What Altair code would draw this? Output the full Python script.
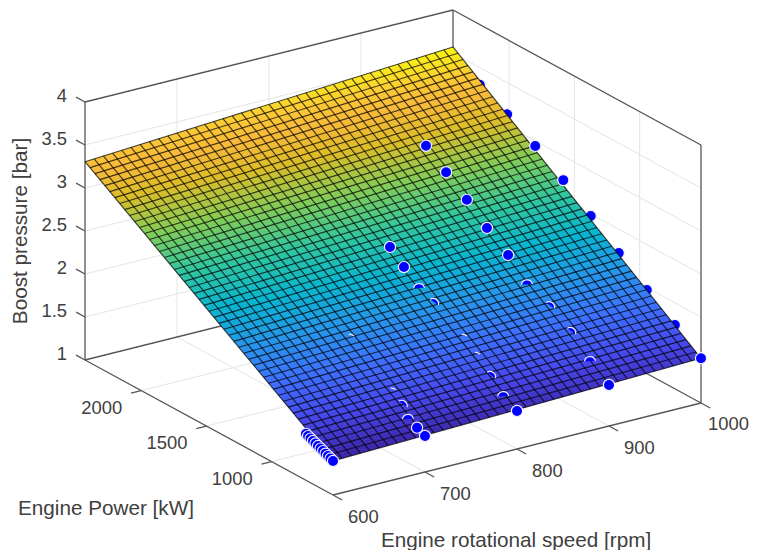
import numpy as np
import pandas as pd
import altair as alt

# ---- axis limits and tick values
RPM_MIN, RPM_MAX = 600, 1000
P_MIN, P_MAX = 530, 2430
Z_MIN, Z_MAX = 1, 4
rpm_ticks = [600, 700, 800, 900, 1000]
power_ticks = [1000, 1500, 2000]
z_ticks = [1, 1.5, 2, 2.5, 3, 3.5, 4]
z_tick_labels = ["1", "1.5", "2", "2.5", "3", "3.5", "4"]

# ---- surface mesh
rpm_grid = [600,610,620,630,640,650,660,670,680,690,700,710,720,730,740,750,760,770,780,790,800,
            810,820,830,840,850,860,870,880,890,900,910,920,930,940,950,960,970,980,990,1000]
power_grid = [530,568,606,644,682,720,758,796,834,872,910,948,986,1024,1062,1100,1138,1176,1214,1252,1290,
              1328,1366,1404,1442,1480,1518,1556,1594,1632,1670,1708,1746,1784,1822,1860,1898,1936,1974,2012,2050,
              2088,2126,2164,2202,2240,2278,2316,2354,2392,2430]
z_at_pmin = [1.395,1.398,1.401,1.404,1.408,1.411,1.414,1.417,1.420,1.423,1.426,1.429,1.433,1.436,1.439,1.442,1.445,1.448,1.451,1.454,1.458,
             1.461,1.464,1.467,1.470,1.473,1.476,1.479,1.483,1.486,1.489,1.492,1.495,1.498,1.501,1.504,1.508,1.511,1.514,1.517,1.520]
z_at_pmax = [3.306,3.313,3.319,3.326,3.332,3.339,3.346,3.352,3.359,3.365,3.372,3.379,3.385,3.392,3.398,3.405,3.412,3.418,3.425,3.431,3.438,
             3.445,3.451,3.458,3.464,3.471,3.478,3.484,3.491,3.497,3.504,3.511,3.517,3.524,3.530,3.537,3.544,3.550,3.557,3.563,3.570]
z_at_600 = [1.395,1.433,1.471,1.510,1.548,1.586,1.624,1.663,1.701,1.739,1.777,1.815,1.854,1.892,1.930,1.968,2.007,2.045,2.083,2.121,2.159,
            2.198,2.236,2.274,2.312,2.351,2.389,2.427,2.465,2.503,2.542,2.580,2.618,2.656,2.695,2.733,2.771,2.809,2.847,2.886,2.924,
            2.962,3.000,3.039,3.077,3.115,3.153,3.191,3.230,3.268,3.306]
z_at_1000 = [1.520,1.561,1.602,1.643,1.684,1.725,1.766,1.807,1.848,1.889,1.930,1.971,2.012,2.053,2.094,2.135,2.176,2.217,2.258,2.299,2.340,
             2.381,2.422,2.463,2.504,2.545,2.586,2.627,2.668,2.709,2.750,2.791,2.832,2.873,2.914,2.955,2.996,3.037,3.078,3.119,3.160,
             3.201,3.242,3.283,3.324,3.365,3.406,3.447,3.488,3.529,3.570]

# ---- measured points; vis: how much of the marker shows through the surface
dot_rpm = [1000]*9 + [900]*10 + [800]*10 + [700]*6 + [600]*12
dot_power = [530,730,945,1160,1375,1585,1800,2015,2225,
             530,676,828,990,1159,1303,1465,1619,1778,1932,
             530,636,737,844,944,1051,1174,1281,1396,1503,
             530,591,661,709,785,1104,
             737,721,702,683,664,645,625,606,587,568,549,530]
dot_z = [1.520,1.742,1.972,2.224,2.477,2.720,2.940,3.130,3.300,
         1.477,1.647,1.835,2.000,2.140,2.350,2.530,2.730,2.920,3.100,
         1.442,1.540,1.666,1.800,1.926,2.050,2.153,2.264,2.400,2.545,
         1.419,1.465,1.523,1.620,1.700,2.060,
         1.540,1.527,1.514,1.501,1.488,1.474,1.461,1.448,1.434,1.421,1.408,1.395]
dot_vis = ["full","under","under","under","under","full","full","under","under",
           "full","cap","sliver","sliver","cap","full","full","full","full","full",
           "full","cap","sliver","tiny","tiny","under","sliver","cap","full","full",
           "full","full","cap","sliver","tiny","tiny",
           "full","full","full","full","full","full","full","full","full","full","full","full"]

parula = ["#3e26a8","#4747eb","#3e6fff","#2796eb","#08b5d0","#31c69f","#81cc59","#dcbd29","#f9b93a","#fcc836","#f9fb0e"]
parula_at = [0, 0.111, 0.222, 0.333, 0.444, 0.556, 0.667, 0.778, 0.86, 0.91, 1]

# ---- view: fixed orthographic projection of the axes box onto the page
ORIGIN = (333.0, 495.0)
U = (368.0, -92.0)
V = (-248.0, -135.0)
Z_PX = 86.0
W, H = 743, 542
OFF = 8


def project(rpm, power, z):
    u = (np.asarray(rpm, float) - RPM_MIN) / (RPM_MAX - RPM_MIN)
    v = (np.asarray(power, float) - P_MIN) / (P_MAX - P_MIN)
    px = ORIGIN[0] + U[0] * u + V[0] * v
    py = ORIGIN[1] + U[1] * u + V[1] * v - Z_PX * (np.asarray(z, float) - Z_MIN)
    return px, py


def segs(rows):
    a = np.array([r[:3] for r in rows], float)
    b = np.array([r[3:] for r in rows], float)
    x, y = project(a[:, 0], a[:, 1], a[:, 2])
    x2, y2 = project(b[:, 0], b[:, 1], b[:, 2])
    return pd.DataFrame({"x": x, "y": y, "x2": x2, "y2": y2})


sx = alt.Scale(domain=[OFF, OFF + W], range=[0, W], nice=False, zero=False)
sy = alt.Scale(domain=[OFF, OFF + H], range=[0, H], nice=False, zero=False)
X = alt.X("x:Q", scale=sx, axis=None)
Y = alt.Y("y:Q", scale=sy, axis=None)


def rule_layer(rows, color, width, opacity=1.0):
    return alt.Chart(segs(rows)).mark_rule(color=color, strokeWidth=width, opacity=opacity).encode(
        x=X, y=Y, x2="x2:Q", y2="y2:Q")


# walls and floor grid
grid = []
for r in rpm_ticks[1:-1]:
    grid += [(r, P_MIN, Z_MIN, r, P_MAX, Z_MIN), (r, P_MAX, Z_MIN, r, P_MAX, Z_MAX)]
for p in power_ticks:
    grid += [(RPM_MIN, p, Z_MIN, RPM_MAX, p, Z_MIN), (RPM_MAX, p, Z_MIN, RPM_MAX, p, Z_MAX)]
for z in z_ticks[1:-1]:
    grid += [(RPM_MIN, P_MAX, z, RPM_MAX, P_MAX, z), (RPM_MAX, P_MIN, z, RPM_MAX, P_MAX, z)]

box = [
    (RPM_MIN, P_MIN, Z_MIN, RPM_MAX, P_MIN, Z_MIN),
    (RPM_MIN, P_MIN, Z_MIN, RPM_MIN, P_MAX, Z_MIN),
    (RPM_MAX, P_MIN, Z_MIN, RPM_MAX, P_MAX, Z_MIN),
    (RPM_MIN, P_MAX, Z_MIN, RPM_MAX, P_MAX, Z_MIN),
    (RPM_MIN, P_MAX, Z_MIN, RPM_MIN, P_MAX, Z_MAX),
    (RPM_MAX, P_MIN, Z_MIN, RPM_MAX, P_MIN, Z_MAX),
    (RPM_MAX, P_MAX, Z_MIN, RPM_MAX, P_MAX, Z_MAX),
    (RPM_MIN, P_MAX, Z_MAX, RPM_MAX, P_MAX, Z_MAX),
    (RPM_MAX, P_MIN, Z_MAX, RPM_MAX, P_MAX, Z_MAX),
]

ticks = []
for r in rpm_ticks:
    ticks.append((r, P_MIN, Z_MIN, r, P_MIN - 70, Z_MIN))
for p in power_ticks:
    ticks.append((RPM_MIN, p, Z_MIN, RPM_MIN - 11, p, Z_MIN))
for z in z_ticks:
    ticks.append((RPM_MIN, P_MAX, z, RPM_MIN, P_MAX + 68, z))

# surface patch with a gradient running along z
c_rpm = [rpm_grid[0], rpm_grid[-1], rpm_grid[-1], rpm_grid[0]]
c_pow = [power_grid[0], power_grid[0], power_grid[-1], power_grid[-1]]
c_z = [z_at_pmin[0], z_at_pmin[-1], z_at_pmax[-1], z_at_pmax[0]]
cx, cy = project(c_rpm, c_pow, c_z)
nx = (cx - cx.min()) / (cx.max() - cx.min())
ny = (cy - cy.min()) / (cy.max() - cy.min())
t = (np.array(c_z) - min(c_z)) / (max(c_z) - min(c_z))
A = np.column_stack([np.ones(4), nx, ny])
al, be, ga = np.linalg.lstsq(A, t, rcond=None)[0]
n2 = be * be + ga * ga
x1, y1 = -al * be / n2, -al * ga / n2
x2, y2 = x1 + be / n2, y1 + ga / n2
gradient = alt.LinearGradient(
    gradient="linear", x1=float(x1), y1=float(y1), x2=float(x2), y2=float(y2),
    stops=[alt.GradientStop(offset=o, color=c) for o, c in zip(parula_at, parula)])
patch_df = pd.DataFrame({"x": cx, "y": cy, "i": range(4)})
patch = alt.Chart(patch_df).mark_line(
    filled=True, interpolate="linear-closed", fill=gradient, stroke=None, strokeWidth=0
).encode(x=X, y=Y, order="i:Q")

# mesh
mesh_rows = [(r, P_MIN, a, r, P_MAX, b) for r, a, b in zip(rpm_grid, z_at_pmin, z_at_pmax)]
mesh_rows += [(RPM_MIN, p, a, RPM_MAX, p, b) for p, a, b in zip(power_grid, z_at_600, z_at_1000)]
mesh = rule_layer(mesh_rows, "#000000", 1.15, 0.72)

# dots
dots = pd.DataFrame({"rpm": dot_rpm, "power": dot_power, "z": dot_z, "vis": dot_vis})
dots["x"], dots["y"] = project(dots.rpm, dots.power, dots.z)
dots["i"] = range(len(dots))
DOT = 125


def dot_layer(vis):
    d = dots[dots.vis == vis]
    return alt.Chart(d).mark_point(shape="circle", filled=True, fill="#0000ff", stroke="#f0f0ff",
                                   strokeWidth=1.2, size=DOT, opacity=1).encode(x=X, y=Y, order="i:Q")


def part_layers(vis, start, arc):
    d = dots[dots.vis == vis]
    area = alt.Chart(d).mark_point(shape=f"M{start}A1,1,0,0,1,{arc}Z", filled=True, fill="#0000ff",
                                   strokeWidth=0, size=DOT, opacity=1).encode(x=X, y=Y)
    edge = alt.Chart(d).mark_point(shape=f"M{start}A1,1,0,0,1,{arc}", filled=False, stroke="#f0f0ff",
                                   strokeWidth=1.2, size=DOT, opacity=1).encode(x=X, y=Y)
    return area + edge


# tick labels
z_px, z_py = project([RPM_MIN] * len(z_ticks), [P_MAX] * len(z_ticks), z_ticks)
p_px, p_py = project([RPM_MIN] * len(power_ticks), power_ticks, [Z_MIN] * len(power_ticks))
r_px, r_py = project(rpm_ticks, [P_MIN] * len(rpm_ticks), [Z_MIN] * len(rpm_ticks))
FONT = "Liberation Sans"
TXT = "#404040"


def labels(px, py, text, align, dx, dy):
    df = pd.DataFrame({"x": px, "y": py, "t": text})
    return alt.Chart(df).mark_text(font=FONT, fontSize=18.4, color=TXT, align=align, baseline="middle",
                                   dx=dx, dy=dy).encode(x=X, y=Y, text="t:N")


def title(text, x, y, angle=0):
    return alt.Chart(pd.DataFrame({"t": [text]})).mark_text(
        font=FONT, fontSize=20.7, color=TXT, align="center", baseline="middle", angle=angle
    ).encode(text="t:N", x=alt.value(x - OFF), y=alt.value(y - OFF))


chart = alt.layer(
    rule_layer(grid, "#e4e4e4", 1.0),
    rule_layer(box, "#555555", 1.3),
    dot_layer("under"),
    patch,
    mesh,
    dot_layer("full"),
    part_layers("cap", "-0.97,0.25", "0.99,0.15"),
    part_layers("sliver", "-0.5,-0.87", "0.98,0.2"),
    part_layers("tiny", "-0.2,-0.98", "0.7,-0.7"),
    rule_layer(ticks, "#555555", 1.3),
    labels(z_px, z_py, z_tick_labels, "right", -18, -6),
    labels(p_px, p_py, [str(p) for p in power_ticks], "right", -19, 17),
    labels(r_px[:-1], r_py[:-1], [str(r) for r in rpm_ticks[:-1]], "left", 15, 22),
    labels(r_px[-1:], r_py[-1:], [str(rpm_ticks[-1])], "right", 48, 21),
    title("Engine rotational speed [rpm]", 516, 541),
    title("Engine Power [kW]", 106, 509),
    title("Boost pressure [bar]", 21, 231, 270),
).properties(width=W, height=H, padding=0, autosize=alt.AutoSizeParams(type="none")
).configure_view(stroke=None).resolve_scale(x="shared", y="shared")

chart.save("out.html", embed_options={"renderer": "svg", "actions": False})
